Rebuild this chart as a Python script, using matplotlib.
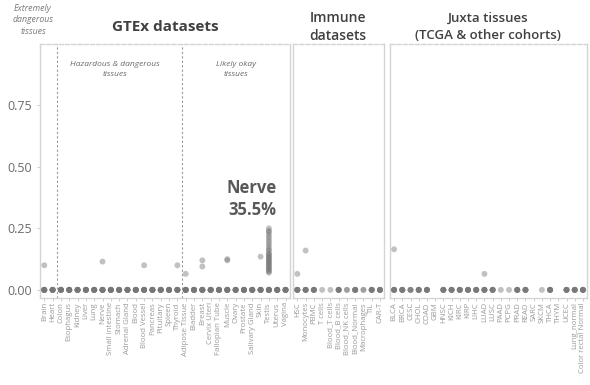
import numpy as np
import matplotlib
matplotlib.use("Agg")
import matplotlib.pyplot as plt

plt.rcParams['font.family'] = ['Open Sans', 'DejaVu Sans']

# GTEx tissues, grouped by risk
gtex_tissues = ['Brain', 'Heart', 'Colon', 'Esophagus', 'Kidney', 'Liver', 'Lung',
                'Nerve', 'Small intestine', 'Stomach', 'Adrenal Gland', 'Blood',
                'Blood Vessel', 'Pancreas', 'Pituitary', 'Spleen', 'Thyroid',
                'Adipose Tissue', 'Bladder', 'Breast', 'Cervix Uteri', 'Fallopian Tube',
                'Muscle', 'Ovary', 'Prostate', 'Salivary Gland', 'Skin', 'Testis',
                'Uterus', 'Vagina']
gtex_zero_counts = [8] * 30
gtex_nonzero = {
    'Brain': [0.10],
    'Nerve': [0.115],
    'Blood Vessel': [0.10],
    'Thyroid': [0.10],
    'Adipose Tissue': [0.065],
    'Breast': [0.12, 0.095],
    'Muscle': [0.12, 0.125],
    'Skin': [0.135],
    'Testis': [0.25, 0.24, 0.235, 0.225, 0.215, 0.205, 0.195, 0.185, 0.175, 0.165,
               0.16, 0.15, 0.145, 0.14, 0.135, 0.13, 0.125, 0.12, 0.115, 0.11,
               0.105, 0.10, 0.095, 0.09, 0.085, 0.08, 0.075, 0.07],
}

immune_sets = ['HSC', 'Monocytes', 'PBMC', 'T cells', 'Blood_T cells', 'Blood_B cells',
               'Blood_NK cells', 'Blood_Normal', 'Macrophages', 'TIL', 'CAR-T']
immune_zero_counts = [6, 6, 6, 1, 1, 6, 2, 6, 2, 6, 6]
immune_nonzero = {'HSC': [0.065], 'Monocytes': [0.16]}

juxta_sets = ['BLCA', 'BRCA', 'CESC', 'CHOL', 'COAD', 'GBM', 'HNSC', 'KICH', 'KIRC',
              'KIRP', 'LIHC', 'LUAD', 'LUSC', 'PAAD', 'PCPG', 'PRAD', 'READ', 'SARC',
              'SKCM', 'THCA', 'THYM', 'UCEC', 'Lung_normal', 'Color rectal Normal']
juxta_zero_counts = [6, 6, 4, 6, 6, 0, 6, 6, 6, 6, 6, 6, 6, 1, 1, 6, 6, 0, 1, 6, 0, 6, 6, 6]
juxta_nonzero = {'BLCA': [0.165], 'LUAD': [0.065]}

GREY = '#767676'
TXT = '#6a6a6a'
FRAME = '#d4d4d4'

fig = plt.figure(figsize=(5.9, 3.85), dpi=100)
bottom, top = 0.226, 0.886
boxes = [(0.068, 0.491), (0.497, 0.651), (0.661, 0.995)]
groups = [(gtex_tissues, gtex_zero_counts, gtex_nonzero),
          (immune_sets, immune_zero_counts, immune_nonzero),
          (juxta_sets, juxta_zero_counts, juxta_nonzero)]

axes = []
for (l, r), (names, zeros, nonzero) in zip(boxes, groups):
    ax = fig.add_axes([l, bottom, r - l, top - bottom])
    xs, ys = [], []
    for i, name in enumerate(names):
        vals = [0.0] * zeros[i] + nonzero.get(name, [])
        xs += [i] * len(vals)
        ys += vals
    ax.scatter(xs, ys, s=18, color=GREY, alpha=0.45, edgecolors='none', zorder=3)
    ax.set_xlim(-0.5, len(names) - 0.5)
    ax.set_ylim(-0.033, 1.0)
    ax.set_xticks(range(len(names)))
    ax.set_xticklabels(names, rotation=90, fontsize=5.6, color='#9a9a9a')
    ax.tick_params(axis='x', length=2, width=0.5, color='#bbbbbb', pad=1)
    for sp in ax.spines.values():
        sp.set_color(FRAME)
        sp.set_linewidth(1.0)
    ax.spines['top'].set_linestyle((0, (3, 1.5)))
    axes.append(ax)

ax0 = axes[0]
ax0.set_yticks([0, 0.25, 0.5, 0.75])
ax0.set_yticklabels(['0.00', '0.25', '0.50', '0.75'], fontsize=9, color=TXT)
ax0.tick_params(axis='y', length=2, width=0.5, color='#bbbbbb')
for ax in axes[1:]:
    ax.set_yticks([])

# risk group separators
for xv in (1.5, 16.5):
    ax0.axvline(xv, color='#9a9a9a', lw=0.8, ls=(0, (2, 2)), zorder=1)

ax0.text(8.5, 0.93, 'Hazardous & dangerous\ntissues', ha='center', va='top',
         fontsize=6, style='italic', color='#6a6a6a', linespacing=1.5)
ax0.text(23, 0.93, 'Likely okay\ntissues', ha='center', va='top',
         fontsize=6, style='italic', color='#6a6a6a', linespacing=1.5)
ax0.text(27.9, 0.37, 'Nerve\n35.5%', ha='right', va='center', fontsize=12,
         fontweight='bold', color='#595959', linespacing=1.3)

fig.text(33 / 590, 1 - 20 / 385, 'Extremely\ndangerous\ntissues', ha='center', va='center',
         fontsize=6.3, style='italic', color='#7a7a7a', linespacing=1.3)
fig.text(165 / 590, 1 - 27 / 385, 'GTEx datasets', ha='center', va='center',
         fontsize=11, fontweight='bold', color='#404040')
fig.text(338 / 590, 1 - 27 / 385, 'Immune\ndatasets', ha='center', va='center',
         fontsize=10, fontweight='semibold', color='#404040', linespacing=1.35)
fig.text(488 / 590, 1 - 27 / 385, 'Juxta tissues\n(TCGA & other cohorts)', ha='center',
         va='center', fontsize=9.5, fontweight='semibold', color='#404040', linespacing=1.35)

fig.savefig('out.png', dpi=100)
